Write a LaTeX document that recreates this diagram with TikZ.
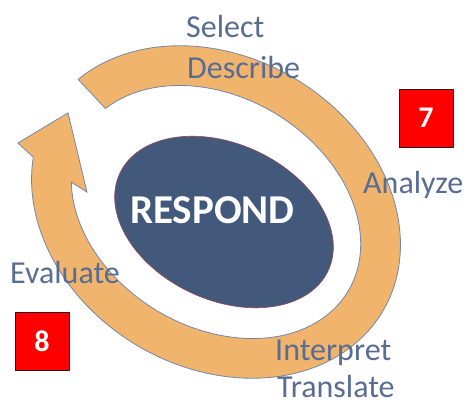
\documentclass[tikz,border=0pt]{standalone}
\usepackage{fontspec}
\setmainfont{Carlito}
\usetikzlibrary{shapes.geometric}
\definecolor{bandor}{RGB}{240,180,108}
\definecolor{bandline}{RGB}{115,135,170}
\definecolor{coreblue}{RGB}{67,89,124}
\definecolor{coreline}{RGB}{150,75,85}
\definecolor{lbl}{RGB}{88,108,148}
\definecolor{boxred}{RGB}{255,0,0}
\definecolor{boxline}{RGB}{50,20,20}
\begin{document}
\begin{tikzpicture}[x=1pt,y=1pt,
  lab/.style={anchor=base west, inner sep=0pt, text=lbl, font=\fontsize{32}{38}\selectfont},
  numbox/.style={rectangle, fill=boxred, draw=boxline, line width=1pt, minimum width=54pt, minimum height=58pt, inner sep=0pt, text=white, font=\fontsize{30}{36}\selectfont\bfseries},
  band/.style={fill=bandor, draw=bandline, line width=0.8pt, line join=miter},
  core/.style={ellipse, fill=coreblue, draw=coreline, line width=0.6pt, inner sep=0pt, minimum width=230pt, minimum height=156pt, rotate=-25}]
\useasboundingbox (0,0) rectangle (469,-405);
\begin{scope}[shift={(216,-212)}, rotate=-31]
\draw[band] (164:194pt and 155pt)
  arc[start angle=164, end angle=-162.3, x radius=194pt, y radius=155pt]
  -- (-205.3,-42.9) -- (-177.9,8.7) -- (-120.9,-49.3)
  -- (-154.8:154pt and 115pt)
  arc[start angle=-154.8, end angle=164, x radius=154pt, y radius=115pt]
  -- cycle;
\end{scope}
\node[core] (coreell) at (224,-222) {};
\node[anchor=base, inner sep=0pt, text=white, font=\fontsize{41}{48}\selectfont\bfseries] (resp) at (212.5,-223) {RESPOND};
\node[lab] (sel) at (186,-37) {Select};
\node[lab] (desc) at (187,-78) {Describe};
\node[lab] (ana) at (363,-193) {Analyze};
\node[lab] (eva) at (10,-283) {Evaluate};
\node[lab] (intp) at (275,-360) {Interpret};
\node[lab] (trans) at (277,-397) {Translate};
\node[numbox] (seven) at (426,-118) {7};
\node[numbox] (eight) at (42,-341) {8};
\end{tikzpicture}
\end{document}
